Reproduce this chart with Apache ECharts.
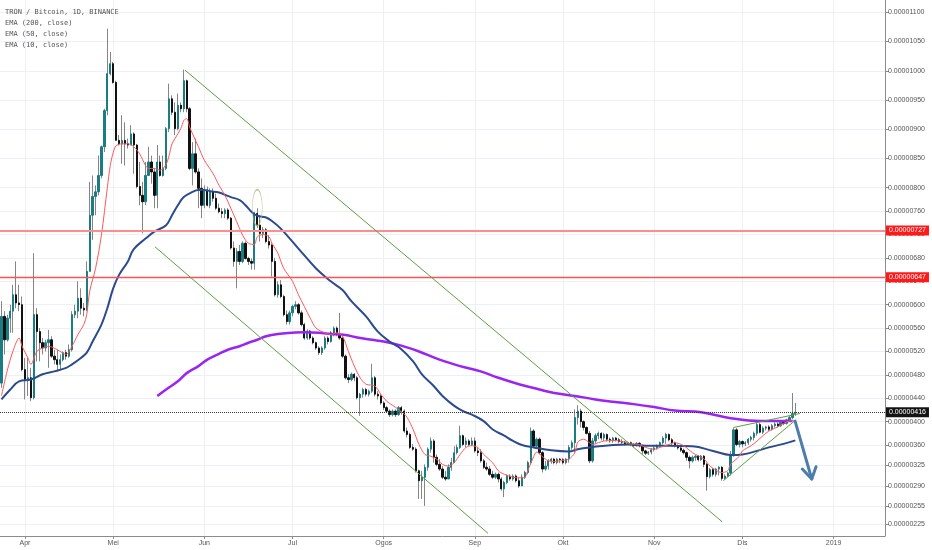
<!DOCTYPE html>
<html><head><meta charset="utf-8">
<script src="https://cdn.jsdelivr.net/npm/echarts/dist/echarts.min.js"></script>
<style>html,body{margin:0;padding:0;background:#fff}#c{width:932px;height:550px}</style>
</head><body><div id="c"></div>
<script>
// ---- data (prices in satoshi, 1e-8 BTC) ----
const firstDay = '2018-03-24';
const opens = [
466,580,540,577,589,617,603,600,
489,472,475,441,583,554,535,526,535,540,512,506,498,506,518,512,523,583,589,611,594,591,657,753,785,793,821,870,932,995,
1012,980,881,875,881,875,873,892,873,802,787,776,821,844,827,787,844,821,833,901,952,929,901,941,935,983,935,833,858,827,799,
770,796,770,793,782,765,759,756,762,748,697,674,691,674,705,679,674,671,756,736,722,728,708,702,674,617,634,614,583,571,
586,597,600,586,566,543,555,543,535,526,518,526,543,537,552,560,549,543,512,475,472,481,475,441,447,455,447,452,475,447,444,
432,424,418,412,418,412,424,418,384,378,356,353,316,299,305,322,353,367,339,327,319,305,302,322,330,347,356,376,361,367,361,
367,350,347,333,322,319,310,305,310,302,285,296,307,302,307,299,290,305,313,330,384,358,370,347,319,324,333,336,330,336,
335,330,336,356,364,407,418,400,390,380,333,367,376,380,372,378,370,367,372,369,366,365,362,364,361,359,363,359,350,346,348,
352,355,359,364,372,378,369,364,359,355,351,347,339,333,339,341,335,341,327,306,318,310,319,322,303,307,312,344,386,361,
366,362,364,370,373,380,395,382,389,391,387,393,396,393,399,397,403,407,414];
const closes = [
580,540,577,589,617,603,600,489,
472,475,441,583,554,535,526,535,540,512,506,498,506,518,512,523,583,589,611,594,591,657,753,785,793,821,870,932,995,1012,
980,881,875,881,875,873,892,873,802,787,776,821,844,827,787,844,821,833,901,952,929,901,941,935,983,935,833,858,827,799,770,
796,770,793,782,765,759,756,762,748,697,674,691,674,705,679,674,671,756,736,722,728,708,702,674,617,634,614,583,571,586,
597,600,586,566,543,555,543,535,526,518,526,543,537,552,560,549,543,512,475,472,481,475,441,447,455,447,452,475,447,444,432,
424,418,412,418,412,424,418,384,378,356,353,316,299,305,322,353,367,339,327,319,305,302,322,330,347,356,376,361,367,361,367,
350,347,333,322,319,310,305,310,302,285,296,307,302,307,299,290,305,313,330,384,358,370,347,319,324,333,336,330,336,335,
330,336,356,364,407,418,400,390,380,333,367,376,380,372,378,370,367,372,369,366,365,362,364,361,359,363,359,350,346,348,352,
355,359,364,372,378,369,364,359,355,351,347,339,333,339,341,335,341,327,306,318,310,319,322,303,307,312,344,386,361,366,
362,364,370,373,380,395,382,389,391,387,393,396,393,399,397,403,407,414,416];
const lows = [
458,515,537,552,552,594,589,486,
438,444,435,438,503,503,515,520,492,509,498,486,489,503,506,509,520,577,577,583,580,589,657,711,753,787,816,861,924,992,
978,881,872,841,838,867,873,824,799,770,722,770,821,807,765,765,819,819,830,895,924,890,898,929,929,929,830,804,824,765,748,
765,768,765,776,762,756,748,748,745,694,665,628,668,671,677,668,660,660,731,708,714,705,696,648,614,612,611,580,566,566,
580,592,583,563,540,540,540,532,523,514,514,523,532,535,546,546,540,509,472,466,469,469,438,410,441,443,443,449,443,438,429,
420,415,408,409,408,410,412,381,373,353,350,313,268,268,256,316,347,330,324,316,302,299,302,316,330,344,353,358,356,358,358,
347,341,330,319,316,307,302,302,296,282,271,293,299,299,296,287,290,302,310,327,356,353,344,313,316,318,328,327,327,329,
327,327,330,352,347,395,390,385,378,329,330,362,370,368,367,366,364,364,366,363,362,359,360,358,356,357,356,344,343,343,344,
349,352,357,361,362,366,358,356,352,348,344,333,320,330,333,332,333,322,282,303,306,306,308,299,301,305,308,340,358,356,
356,358,360,366,368,376,380,379,385,384,385,390,390,391,394,395,400,404,410];
const highs = [
606,589,583,600,634,674,634,614,
509,509,492,688,594,560,543,540,557,546,523,523,515,520,523,532,589,600,640,628,603,674,810,821,804,855,872,935,1072,1032,
1015,983,890,924,912,884,907,895,875,844,810,844,870,855,833,873,855,855,904,978,958,946,961,946,1002,985,938,878,884,833,816,
804,802,799,799,790,773,765,765,765,750,708,697,702,708,708,682,679,759,765,753,733,731,719,705,680,640,642,617,590,590,
600,606,603,590,569,558,557,546,537,529,529,546,546,555,563,563,586,546,515,481,484,483,478,449,458,458,455,499,478,452,447,
435,427,421,421,421,427,427,421,390,381,362,356,318,316,327,356,373,370,344,336,324,316,327,338,358,361,393,378,373,370,373,
373,356,353,336,330,324,316,313,313,305,299,310,310,310,310,304,310,316,333,390,387,373,373,350,333,336,338,338,338,338,
338,338,360,368,421,428,422,402,392,384,372,380,383,382,381,380,373,374,374,372,370,367,366,366,363,365,365,361,352,350,355,
358,361,366,375,381,380,372,366,361,358,354,349,342,342,343,343,343,343,330,321,321,321,324,324,310,314,350,389,389,369,
368,367,372,376,383,401,398,392,393,394,396,399,399,402,401,405,410,449,432];

const ema10Dates = ['2018-03-24','2018-03-26','2018-03-28','2018-03-30','2018-03-31','2018-04-02','2018-04-03','2018-04-05','2018-04-07','2018-04-09','2018-04-12','2018-04-15','2018-04-17','2018-04-19','2018-04-21','2018-04-22','2018-04-23','2018-04-25','2018-04-27','2018-04-29','2018-04-30','2018-05-01','2018-05-02','2018-05-04','2018-05-06','2018-05-08','2018-05-10','2018-05-12','2018-05-13','2018-05-15','2018-05-17','2018-05-19','2018-05-20','2018-05-21','2018-05-22','2018-05-24','2018-05-25','2018-05-26','2018-05-27','2018-05-28','2018-05-30','2018-06-01','2018-06-04','2018-06-06','2018-06-08','2018-06-10','2018-06-12','2018-06-14','2018-06-16','2018-06-18','2018-06-19','2018-06-21','2018-06-23','2018-06-24','2018-06-26','2018-06-28','2018-07-01','2018-07-03','2018-07-05','2018-07-07','2018-07-09','2018-07-12','2018-07-14','2018-07-16','2018-07-18','2018-07-20','2018-07-22','2018-07-24','2018-07-26','2018-07-29','2018-07-31','2018-08-02','2018-08-04','2018-08-06','2018-08-08','2018-08-09','2018-08-11','2018-08-13','2018-08-15','2018-08-17','2018-08-19','2018-08-21','2018-08-23','2018-08-25','2018-08-27','2018-08-29','2018-08-31','2018-09-02','2018-09-04','2018-09-07','2018-09-09','2018-09-11','2018-09-14','2018-09-16','2018-09-18','2018-09-19','2018-09-21','2018-09-22','2018-09-23','2018-09-24','2018-09-26','2018-09-28','2018-09-30','2018-10-03','2018-10-05','2018-10-06','2018-10-08','2018-10-10','2018-10-11','2018-10-13','2018-10-15','2018-10-18','2018-10-20','2018-10-22','2018-10-24','2018-10-27','2018-10-29','2018-11-01','2018-11-03','2018-11-06','2018-11-08','2018-11-11','2018-11-14','2018-11-18','2018-11-20','2018-11-22','2018-11-24','2018-11-26','2018-11-27','2018-11-30','2018-12-01','2018-12-04','2018-12-06','2018-12-08','2018-12-10','2018-12-13','2018-12-15','2018-12-17','2018-12-19'];
const ema10Values = [444,488,522,543,529,509,498,520,526,529,523,515,529,549,566,583,623,662,719,800,838,860,872,875,875,870,858,838,833,833,830,840,855,875,884,901,915,918,904,892,870,847,824,804,787,765,742,719,705,703,716,720,716,705,688,662,640,617,597,577,560,552,549,552,546,520,495,475,464,461,447,435,428,421,413,407,387,361,344,341,336,327,324,330,344,356,359,356,344,330,316,310,305,304,305,316,340,348,345,340,333,332,333,336,347,365,370,364,361,364,367,368,367,365,362,361,356,353,356,361,364,359,347,336,324,317,313,316,327,341,350,359,367,376,384,391,397,401,402];

const ema50Dates = ['2018-03-24','2018-03-27','2018-03-30','2018-04-03','2018-04-07','2018-04-11','2018-04-15','2018-04-17','2018-04-20','2018-04-22','2018-04-24','2018-04-27','2018-04-29','2018-05-01','2018-05-03','2018-05-06','2018-05-08','2018-05-12','2018-05-15','2018-05-19','2018-05-21','2018-05-23','2018-05-25','2018-05-28','2018-05-30','2018-06-01','2018-06-03','2018-06-06','2018-06-08','2018-06-10','2018-06-13','2018-06-15','2018-06-17','2018-06-19','2018-06-22','2018-06-24','2018-06-27','2018-07-03','2018-07-09','2018-07-14','2018-07-18','2018-07-21','2018-07-26','2018-07-30','2018-08-03','2018-08-07','2018-08-11','2018-08-14','2018-08-18','2018-08-21','2018-08-25','2018-08-28','2018-08-31','2018-09-04','2018-09-07','2018-09-11','2018-09-14','2018-09-17','2018-09-21','2018-09-27','2018-10-03','2018-10-06','2018-10-10','2018-10-18','2018-10-23','2018-10-29','2018-11-06','2018-11-14','2018-11-21','2018-11-27','2018-12-01','2018-12-06','2018-12-10','2018-12-15','2018-12-19'];
const ema50Values = [438,455,469,472,481,486,492,498,509,518,537,566,594,628,651,674,695,713,725,736,753,770,784,793,796,796,794,792,788,784,779,770,759,752,749,743,730,696,662,640,625,606,580,554,537,524,503,481,461,444,427,418,412,401,387,376,367,360,356,351,349,353,356,360,361,359,359,358,350,343,344,350,356,362,368];

const ema200Dates = ['2018-05-16','2018-05-19','2018-05-23','2018-05-26','2018-05-30','2018-06-02','2018-06-06','2018-06-09','2018-06-13','2018-06-16','2018-06-19','2018-06-22','2018-06-26','2018-07-01','2018-07-05','2018-07-10','2018-07-14','2018-07-19','2018-07-23','2018-07-28','2018-08-01','2018-08-07','2018-08-13','2018-08-20','2018-08-27','2018-09-03','2018-09-09','2018-09-16','2018-09-23','2018-09-28','2018-10-05','2018-10-12','2018-10-18','2018-10-25','2018-11-01','2018-11-08','2018-11-17','2018-11-27','2018-12-07','2018-12-18'];
const ema200Values = [444,455,469,483,495,506,516,523,529,535,540,546,550,552,553,552,550,548,544,540,537,530,520,506,495,486,475,464,455,449,444,438,434,430,425,419,416,406,401,401];

// drawings: [date, price] pairs
const channelUpper = [['2018-05-25 10:00',1001],['2018-11-24 02:00',229]];
const channelLower = [['2018-05-15 05:00',699],['2018-09-05 12:00',209]];
const wedgeLower = [['2018-11-24 12:00',299],['2018-12-18 22:00',402]];
const wedgeUpper = [['2018-11-27 22:00',390],['2018-12-20 14:00',414]];
const arrowShaft = [['2018-12-18 22:00',401],['2018-12-24 14:00',302]];
const arrowHead = [['2018-12-21 09:00',319],['2018-12-24 14:00',302],['2018-12-26 01:00',323]];
const ellipseMark = [['2018-06-19 00:00',766]];

const levelPrices = [727, 647];
const lastPrice = 416;

const yTicks = [225,255,290,325,360,400,440,480,520,560,600,640,680,720,760,800,850,900,950,1000,1050,1100];
const monthTicks = ['2018-04-01','2018-05-01','2018-06-01','2018-07-01','2018-08-01','2018-09-01','2018-10-01','2018-11-01','2018-12-01','2019-01-01'];
const monthLabels = ['Apr','Mei','Jun','Jul','Ogos','Sep','Okt','Nov','Dis','2019'];
const legendLines = ['TRON / Bitcoin, 1D, BINANCE','EMA (200, close)','EMA (50, close)','EMA (10, close)'];

// ---- helpers ----
function T(s){const [d,t]=s.split(' ');const [Y,M,D]=d.split('-').map(Number);let h=0,m=0;if(t){[h,m]=t.split(':').map(Number);}return new Date(Y,M-1,D,h,m).getTime();}
const fd = firstDay.split('-').map(Number);
const dayTimes = opens.map((_,i)=>new Date(fd[0],fd[1]-1,fd[2]+i).getTime());
const wickData = opens.map((o,i)=>[dayTimes[i],o,closes[i],lows[i],highs[i]]);
const bodyData = opens.map((o,i)=>[dayTimes[i],o,closes[i],Math.min(o,closes[i]),Math.max(o,closes[i])]);
const pairs = (ds,vs)=>ds.map((d,i)=>[T(d),vs[i]]);
const pts = arr=>arr.map(p=>[T(p[0]),p[1]]);
const monthTimes = monthTicks.map(T);
const fmtPrice = v=>(v/1e8).toFixed(8);

const chart = echarts.init(document.getElementById('c'), null, {renderer:'canvas'});
const lineBase = {type:'line', showSymbol:false, symbol:'none', silent:true, animation:false};
const labelFont = {fontSize:7, fontFamily:'Liberation Sans', color:'#fff', padding:[2,3,1,3], distance:1, position:'end'};

chart.setOption({
  animation:false,
  backgroundColor:'#ffffff',
  grid:{left:0, top:0, right:47, bottom:14, outerBoundsMode:'none'},
  xAxis:{
    type:'value', min:T('2018-03-23 12:00'), max:T('2019-01-18 12:00'),
    axisLine:{show:true, onZero:false, lineStyle:{color:'#8c8c8c'}},
    axisTick:{show:true, customValues:monthTimes, length:3, lineStyle:{color:'#8c8c8c'}},
    axisLabel:{customValues:monthTimes, fontSize:7, fontFamily:'Liberation Sans', color:'#555', margin:4,
      formatter:v=>{const i=monthTimes.findIndex(t=>Math.abs(t-v)<43200000);return i>=0?monthLabels[i]:'';}},
    splitLine:{show:true, lineStyle:{color:'#edf1f6', width:1}}
  },
  yAxis:{
    type:'value', position:'right', min:204.5, max:1121,
    axisLine:{show:true, onZero:false, lineStyle:{color:'#8c8c8c'}},
    axisTick:{show:true, customValues:yTicks, length:4, lineStyle:{color:'#8c8c8c'}},
    axisLabel:{customValues:yTicks, formatter:fmtPrice, fontSize:7, fontFamily:'Liberation Sans', color:'#555', margin:3},
    splitLine:{show:true, lineStyle:{color:'#edf1f6', width:1}}
  },
  graphic: legendLines.map((t,i)=>({type:'text', left:5, top:9+i*11, silent:true, z:100,
    style:{text:t, fill:'#555', fontSize:7, fontFamily:'DejaVu Sans Mono'}})),
  series:[
    {type:'candlestick', name:'wick', data:wickData, barWidth:0.3, silent:true, z:2,
      itemStyle:{color:'#858585', color0:'#858585', borderColor:'#858585', borderColor0:'#858585', borderWidth:1},
      markLine:{symbol:'none', silent:true, animation:false, z:5,
        data:[
          {yAxis:levelPrices[0], lineStyle:{color:'#ff8d8d', width:2, type:'solid'},
            label:Object.assign({show:true, formatter:p=>fmtPrice(p.value), backgroundColor:'#ff1a1a'},labelFont)},
          {yAxis:levelPrices[1], lineStyle:{color:'#ff5252', width:1.3, type:'solid'},
            label:Object.assign({show:true, formatter:p=>fmtPrice(p.value), backgroundColor:'#ff1a1a'},labelFont)},
          {yAxis:lastPrice, lineStyle:{color:'#333', width:1, type:'dotted'},
            label:Object.assign({show:true, formatter:p=>fmtPrice(p.value), backgroundColor:'#131313'},labelFont)}
        ]}
    },
    {type:'candlestick', name:'body', data:bodyData, barWidth:1.8, silent:true, z:3,
      itemStyle:{color:'#1b7d84', color0:'#111111', borderColor:'#1b7d84', borderColor0:'#111111', borderWidth:1}},
    Object.assign({}, lineBase, {name:'EMA200', data:pairs(ema200Dates,ema200Values), smooth:0.4, z:4,
      lineStyle:{color:'#9a25f2', width:2.5}}),
    Object.assign({}, lineBase, {name:'EMA50', data:pairs(ema50Dates,ema50Values), smooth:0.4, z:4,
      lineStyle:{color:'#2b4b8e', width:2}}),
    Object.assign({}, lineBase, {name:'EMA10', data:pairs(ema10Dates,ema10Values), smooth:0.3, z:4,
      lineStyle:{color:'#ff5757', width:1}}),
    Object.assign({}, lineBase, {name:'chU', data:pts(channelUpper), z:5, lineStyle:{color:'#5c9f3e', width:1}}),
    Object.assign({}, lineBase, {name:'chL', data:pts(channelLower), z:5, lineStyle:{color:'#5c9f3e', width:1}}),
    Object.assign({}, lineBase, {name:'wL', data:pts(wedgeLower), z:5, lineStyle:{color:'#5c9f3e', width:1}}),
    Object.assign({}, lineBase, {name:'wU', data:pts(wedgeUpper), z:5, lineStyle:{color:'#5c9f3e', width:1}}),
    Object.assign({}, lineBase, {name:'arrow', data:pts(arrowShaft), z:6, lineStyle:{color:'#4d7daa', width:3, cap:'round'}}),
    Object.assign({}, lineBase, {name:'arrowHead', data:pts(arrowHead), z:6, lineStyle:{color:'#4d7daa', width:3, cap:'round', join:'round'}}),
    {type:'scatter', name:'ellipse', data:pts(ellipseMark), symbol:'circle', symbolSize:[10,36], silent:true, z:6,
      itemStyle:{color:'rgba(0,0,0,0)', borderColor:'#b3b36e', borderWidth:1}}
  ]
});
</script>
</body></html>
